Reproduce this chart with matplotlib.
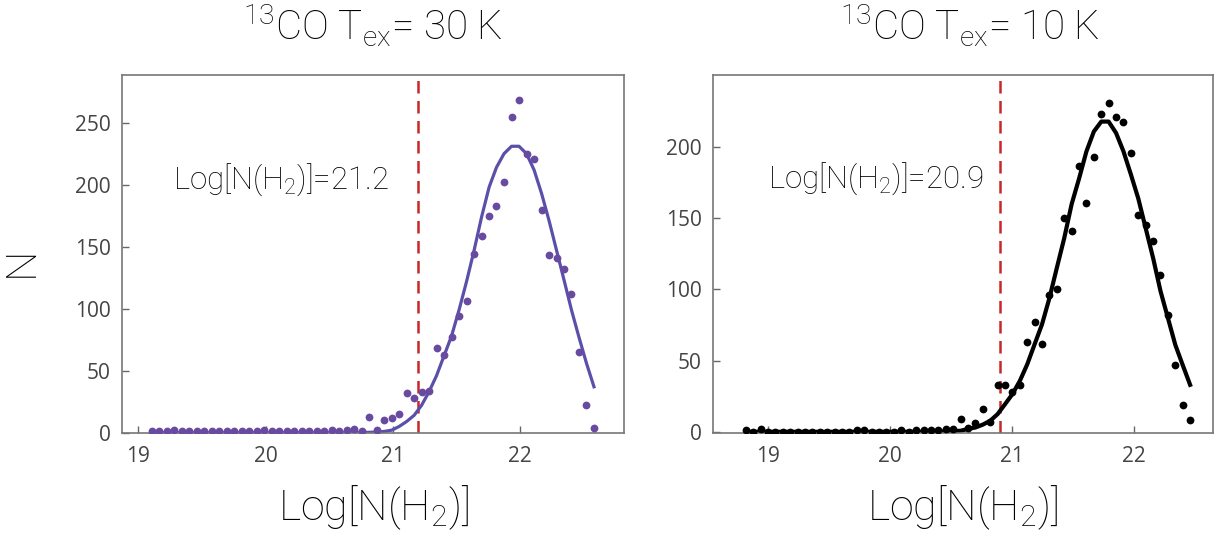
import numpy as np
import matplotlib
matplotlib.use("Agg")
import matplotlib.pyplot as plt

plt.rcParams['font.family'] = ['Roboto', 'DejaVu Sans']
plt.rcParams['mathtext.fontset'] = 'custom'
plt.rcParams['mathtext.rm'] = 'Roboto:light'
plt.rcParams['mathtext.it'] = 'Roboto:light'

# --- 13CO Tex = 30 K : histogram bin centres, counts and gaussian fit ---
x30 = [19.105, 19.164, 19.223, 19.282, 19.341, 19.400, 19.458, 19.517, 19.576, 19.635,
       19.694, 19.753, 19.812, 19.871, 19.930, 19.989, 20.047, 20.106, 20.165, 20.224,
       20.283, 20.342, 20.401, 20.460, 20.519, 20.578, 20.636, 20.695, 20.754, 20.813,
       20.872, 20.931, 20.990, 21.049, 21.108, 21.167, 21.225, 21.284, 21.343, 21.402,
       21.461, 21.520, 21.579, 21.638, 21.697, 21.756, 21.814, 21.873, 21.932, 21.991,
       22.050, 22.109, 22.168, 22.227, 22.286, 22.345, 22.403, 22.462, 22.521, 22.580]
n30 = [1, 1, 1, 2, 1, 1, 1, 1, 1, 1,
       1, 1, 1, 1, 1, 2, 1, 1, 1, 1,
       1, 1, 1, 1, 2, 1, 2, 3, 1, 13,
       2, 10, 12, 15, 32, 28, 33, 34, 68, 63,
       77, 94, 106, 144, 159, 175, 183, 202, 255, 268,
       225, 221, 180, 143, 141, 132, 112, 65, 22, 4]
fit30 = [0, 0, 0, 0, 0, 0, 0, 0, 0, 0,
         0, 0, 0, 0, 0, 0, 0, 0, 0, 0,
         0, 0, 0, 0, 0, 0, 0, 0.1, 0.2, 0.3,
         0.5, 1, 2, 5, 9, 14, 22, 33, 46, 62,
         78, 99, 122, 147, 174, 198, 214, 225, 231, 231,
         225, 212, 193, 171, 147, 123, 99, 77, 56, 37]
cut30 = 21.2

# --- 13CO Tex = 10 K ---
x10 = [18.818, 18.879, 18.939, 19.000, 19.061, 19.122, 19.182, 19.243, 19.304, 19.364,
       19.425, 19.486, 19.546, 19.607, 19.668, 19.729, 19.789, 19.850, 19.911, 19.971,
       20.032, 20.093, 20.153, 20.214, 20.275, 20.336, 20.396, 20.457, 20.518, 20.578,
       20.639, 20.700, 20.760, 20.821, 20.882, 20.943, 21.003, 21.064, 21.125, 21.185,
       21.246, 21.307, 21.367, 21.428, 21.489, 21.550, 21.610, 21.671, 21.732, 21.792,
       21.853, 21.914, 21.974, 22.035, 22.096, 22.157, 22.217, 22.278, 22.339, 22.399,
       22.460]
n10 = [1, 0, 2, 0, 0, 0, 0, 0, 0, 0,
       0, 0, 0, 0, 0, 1, 1, 0, 0, 0,
       0, 1, 0, 1, 1, 1, 1, 2, 2, 9,
       3, 6, 16, 7, 33, 33, 28, 33, 63, 77,
       62, 96, 100, 150, 141, 187, 161, 193, 223, 231,
       221, 218, 196, 152, 145, 134, 110, 82, 47, 19,
       8]
fit10 = [0, 0, 0, 0, 0, 0, 0, 0, 0, 0,
         0, 0, 0, 0, 0, 0, 0, 0, 0, 0,
         0, 0, 0, 0, 0, 0.1, 0.2, 0.3, 0.5, 0.7,
         2, 3, 5, 7.7, 12.4, 19.4, 26.4, 35.7, 47.4, 61.4,
         75.5, 94, 115, 136, 160, 178, 197, 211, 218, 218,
         210, 197, 181, 164, 143, 122, 99, 80, 61, 47,
         33]
cut10 = 20.9

fig = plt.figure(figsize=(12.2, 5.33), dpi=100)
ax1 = fig.add_axes([0.100, 0.1867, 0.4115, 0.6717])
ax2 = fig.add_axes([0.5842, 0.1867, 0.4101, 0.6717])

panels = [
    (ax1, x30, n30, fit30, cut30, '#684aa0', '#5a50aa', 2.3, (18.872, 22.816), (-0.65, 288.1),
     [0, 50, 100, 150, 200, 250], '30', 0.5, (19.275, 197.1)),
    (ax2, x10, n10, fit10, cut10, 'black', 'black', 3.0, (18.547, 22.648), (-1.2, 250.4),
     [0, 50, 100, 150, 200], '10', 0.514, (19.0, 171.8)),
]

for ax, xs, ns, fit, cut, dotc, linec, lw, xlim, ylim, yticks, tex, tx, (ax_, ay_) in panels:
    ax.plot(xs, fit, color=linec, lw=lw, zorder=2)
    ax.plot(xs, ns, 'o', color=dotc, ms=5.6, mec='none', zorder=3)
    ax.axvline(cut, color='#c62828', lw=1.8, ls=(0, (5, 3)), zorder=1)
    ax.set_xlim(*xlim)
    ax.set_ylim(*ylim)
    ax.set_xticks([19, 20, 21, 22])
    ax.set_yticks(yticks)
    ax.tick_params(direction='in', length=5, width=1, color='#666666',
                   labelsize=15, labelcolor='#444444', pad=8)
    ax.tick_params(axis='x', pad=9)
    for lab in ax.get_xticklabels() + ax.get_yticklabels():
        lab.set_fontfamily('Open Sans')
    for sp in ax.spines.values():
        sp.set_color('#777777')
        sp.set_linewidth(1.2)
    ax.text(ax_, ay_, r'Log[N(H$_{\mathrm{2}}$)]=' + str(cut), fontsize=22.5,
            fontweight='light', ha='left', va='baseline')
    ax.set_xlabel(r'Log[N(H$_{\mathrm{2}}$)]', fontsize=31, fontweight='light')
    ax.xaxis.set_label_coords(0.5, -0.14)
    ax.text(tx, 1.102, r'$^{\mathrm{13}}$CO T$_{\mathrm{ex}}$= ' + tex + ' K',
            transform=ax.transAxes, fontsize=29, fontweight='light',
            ha='center', va='baseline')

ax1.set_ylabel('N', fontsize=31, fontweight='light')
ax1.yaxis.set_label_coords(-0.16, 0.48)

fig.savefig('out.png', dpi=100)
